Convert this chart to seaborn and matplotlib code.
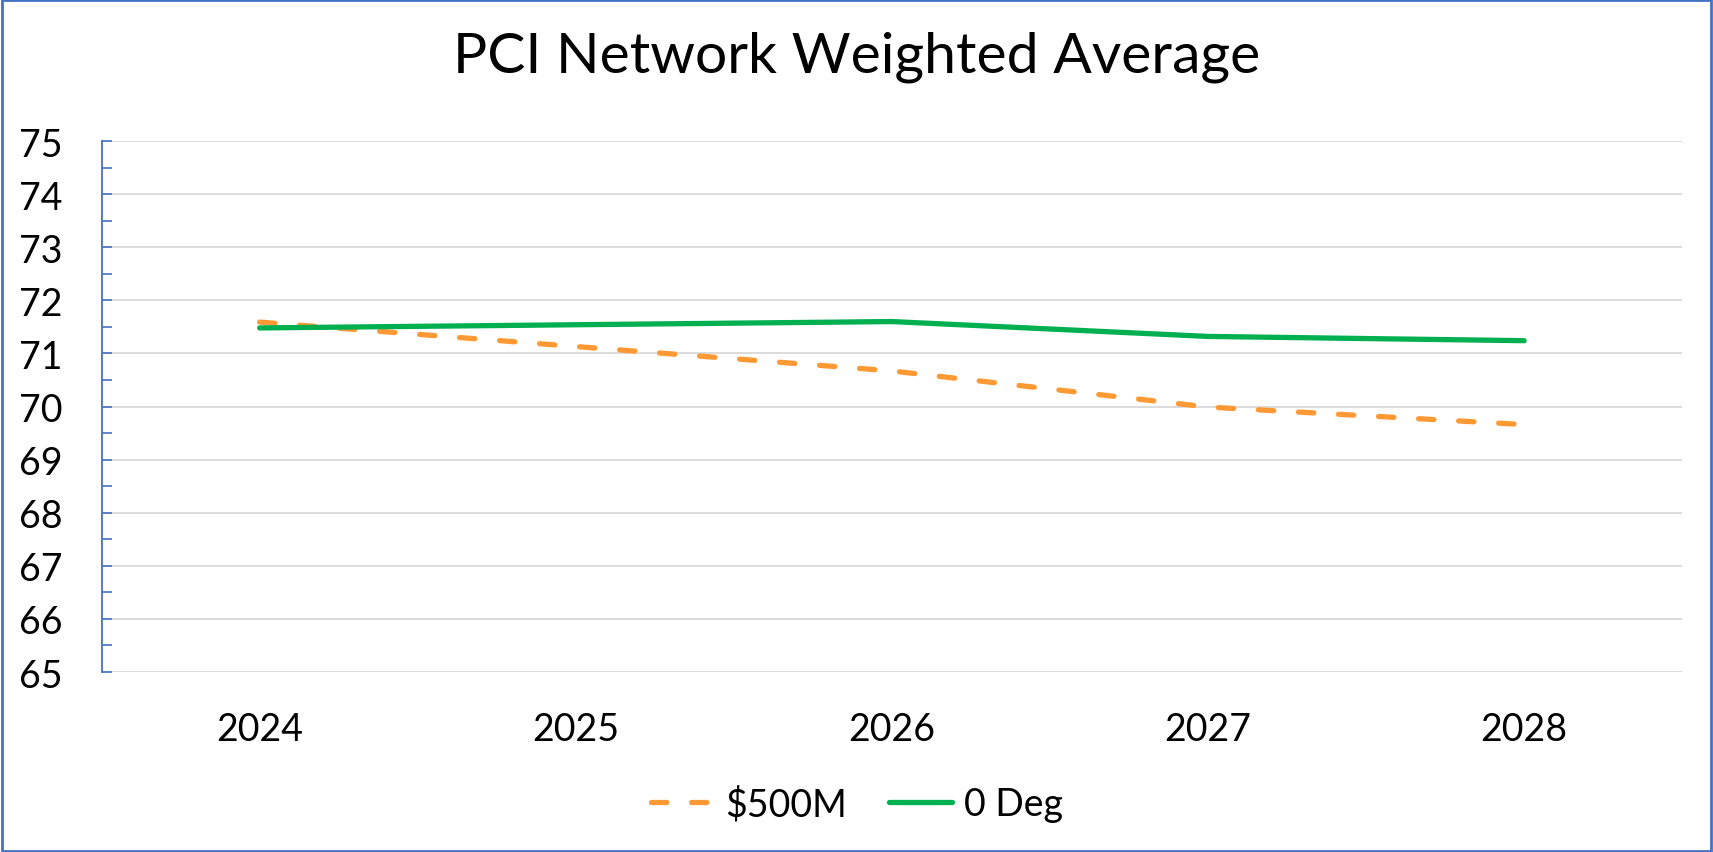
import pandas as pd
import matplotlib.pyplot as plt
import seaborn as sns
from matplotlib.patches import Rectangle
from matplotlib.ticker import MultipleLocator

# data
years = [2024, 2025, 2026, 2027, 2028]
budget_500m = [71.59, 71.13, 70.67, 69.99, 69.66]
zero_deg = [71.48, 71.54, 71.60, 71.32, 71.24]
series_names = ['$500M', '0 Deg']

df = pd.DataFrame({
    'year': years * 2,
    'pci': budget_500m + zero_deg,
    'scenario': [series_names[0]] * len(years) + [series_names[1]] * len(years),
})

sns.set_style('white')
plt.rcParams['font.family'] = ['Lato', 'DejaVu Sans']
plt.rcParams['text.color'] = 'black'

fig = plt.figure(figsize=(17.13, 8.53), dpi=100)
ax = fig.add_axes([0.0593, 0.211, 0.9227, 0.6225])

palette = {'$500M': '#FF9933', '0 Deg': '#00B050'}
sns.lineplot(data=df, x='year', y='pci', hue='scenario', style='scenario',
             palette=palette, dashes={'$500M': (2.9, 4.7), '0 Deg': ''},
             linewidth=3.8, ax=ax, legend=True)
for line in ax.lines:
    line.set_dash_capstyle('round')
    line.set_solid_capstyle('round')

ax.set_xlim(2023.5, 2028.5)
ax.set_ylim(65, 75)
ax.set_xticks(years)
ax.yaxis.set_major_locator(MultipleLocator(1))
ax.yaxis.set_minor_locator(MultipleLocator(0.5))
ax.grid(axis='y', which='major', color='#D9D9D9', linewidth=1.3)
ax.set_axisbelow(True)

ax.tick_params(axis='y', which='both', direction='in', length=7, width=1.2,
               color='#4472C4', labelsize=27, labelcolor='black', pad=28, left=True)
ax.tick_params(axis='x', length=0, labelsize=27, labelcolor='black', pad=28)
for s in ['top', 'right', 'bottom']:
    ax.spines[s].set_visible(False)
ax.spines['left'].set_color('#4472C4')
ax.spines['left'].set_linewidth(1.3)
ax.set_xlabel('')
ax.set_ylabel('')

fig.suptitle('PCI Network Weighted Average', fontsize=41, y=0.933, va='center',
             color='black')

handles, labels = ax.get_legend_handles_labels()
leg = ax.legend(handles, labels, loc='center', bbox_to_anchor=(0.5, 0.056),
                bbox_transform=fig.transFigure, ncol=2, frameon=False,
                fontsize=27, handlelength=1.7, handletextpad=0.3, columnspacing=1.1)
for h in leg.legend_handles:
    h.set_dash_capstyle('round')
    h.set_solid_capstyle('round')

# outer chart border
fig.patches.append(Rectangle((0.001, 0.001), 0.998, 0.998, transform=fig.transFigure,
                             fill=False, edgecolor='#4472C4', linewidth=2))

fig.savefig('out.png', dpi=100)
